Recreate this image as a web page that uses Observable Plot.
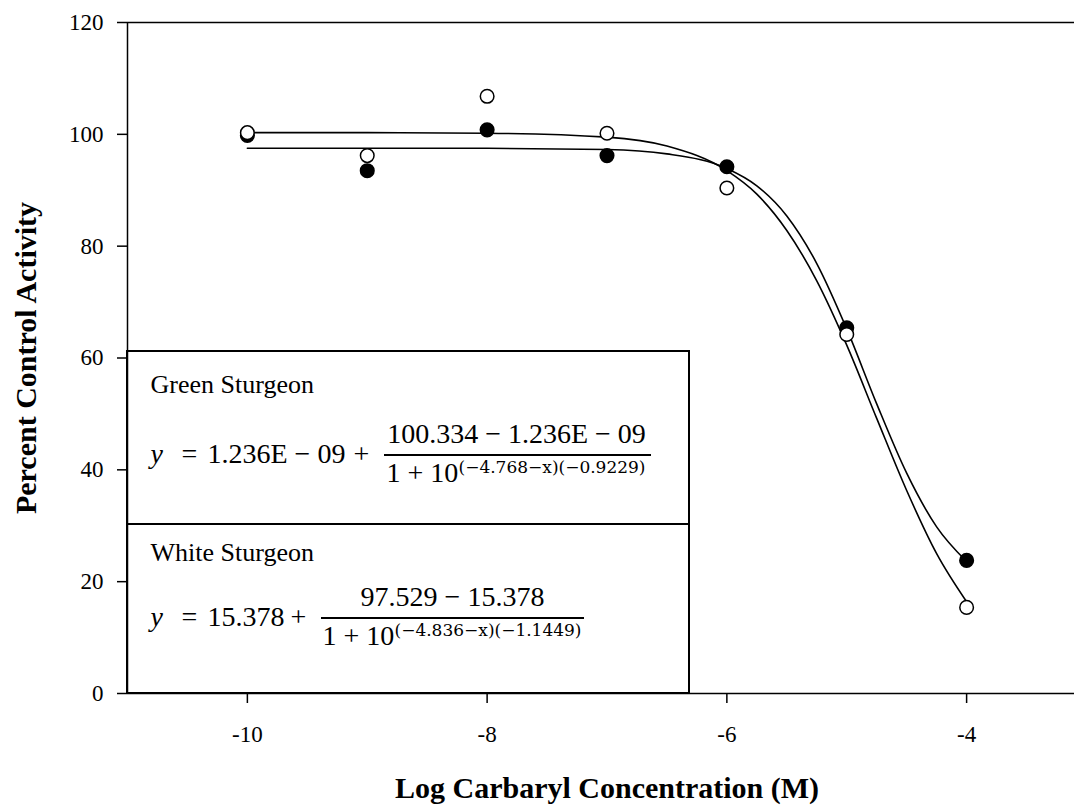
<!DOCTYPE html>
<html><head><meta charset="utf-8">
<script src="https://cdn.jsdelivr.net/npm/d3@7"></script>
<script src="https://cdn.jsdelivr.net/npm/@observablehq/plot@0.6"></script>
<style>body{margin:0;background:#fff}#chart{width:1074px;height:806px}</style>
</head><body><div id="chart"></div>
<script>
// ---- data ----
const logConc = [-10, -9, -8, -7, -6, -5, -4];
const greenActivity = [100.3, 96.2, 106.8, 100.2, 90.4, 64.2, 15.4];   // open circles
const whiteActivity = [99.8, 93.5, 100.8, 96.2, 94.2, 65.4, 23.8];     // filled circles
const fitX = [-10, -9, -8, -7, -6.5, -6, -5.75, -5.5, -5.25, -5, -4.75, -4.5, -4.25, -4];
const greenFit = [100.3, 100.3, 100.2, 99.5, 97.9, 93.5, 89.3, 82.8, 73.8, 62.3, 49.2, 36.3, 25.0, 16.4];
const whiteFit = [97.5, 97.5, 97.5, 97.3, 96.5, 93.9, 90.8, 85.4, 76.9, 65.2, 51.8, 39.4, 29.8, 23.6];
const xTicks = [-10, -8, -6, -4];
const yTicks = [0, 20, 40, 60, 80, 100, 120];
const xTitle = "Log Carbaryl Concentration (M)";
const yTitle = "Percent Control Activity";
const speciesNames = ["Green Sturgeon", "White Sturgeon"];
const greenEq = {lhs: "1.236E − 09", num: "100.334 − 1.236E − 09", exp: "(−4.768−x)(−0.9229)"};
const whiteEq = {lhs: "15.378", num: "97.529 − 15.378", exp: "(−4.836−x)(−1.1449)"};

// ---- tables ----
const pts = logConc.flatMap((x, i) => [
  {x, y: whiteActivity[i], s: "White"},
  {x, y: greenActivity[i], s: "Green"}
]);
const fits = [
  ...fitX.map((x, i) => ({x, y: greenFit[i], s: "Green"})),
  ...fitX.map((x, i) => ({x, y: whiteFit[i], s: "White"}))
];

// ---- annotation layout (pixels in the figure) ----
const W = 1074, H = 806, ML = 127, MT = 22, MB = 113, MR = 0;
const serif = "'Liberation Serif', 'Times New Roman', serif";
const mathSerif = "'DejaVu Serif', serif";
const annot = [
  {t: speciesNames[0], x: 150, y: 392, fs: 26},
  {t: "y", x: 150, y: 462, fs: 28, it: true},
  {t: "=", x: 181, y: 462, fs: 28},
  {t: greenEq.lhs, x: 207, y: 462, fs: 28},
  {t: "+", x: 353, y: 462, fs: 28},
  {t: greenEq.num, x: 516, y: 442, fs: 28, anchor: "middle"},
  {t: "1 + 10", x: 386, y: 481, fs: 28},
  {t: greenEq.exp, x: 458, y: 472, fs: 17, math: true},
  {t: speciesNames[1], x: 150, y: 560, fs: 26},
  {t: "y", x: 150, y: 625, fs: 28, it: true},
  {t: "=", x: 181, y: 625, fs: 28},
  {t: whiteEq.lhs, x: 207, y: 625, fs: 28},
  {t: "+", x: 290, y: 625, fs: 28},
  {t: whiteEq.num, x: 452, y: 605, fs: 28, anchor: "middle"},
  {t: "1 + 10", x: 322, y: 644, fs: 28},
  {t: whiteEq.exp, x: 394, y: 635, fs: 17, math: true}
];
const boxLayout = {x1: 127, x2: 689, y1: 351, y2: 693, div: 524};
const fractionBars = [{x1: 384, x2: 651, y: 455}, {x1: 321, x2: 584, y: 618}];

function legendBox() {
  const g = d3.create("svg:g").attr("stroke", "#000").attr("fill", "none");
  g.append("rect").attr("x", boxLayout.x1).attr("y", boxLayout.y1)
    .attr("width", boxLayout.x2 - boxLayout.x1).attr("height", boxLayout.y2 - boxLayout.y1)
    .attr("fill", "#fff").attr("stroke-width", 2);
  g.append("line").attr("x1", boxLayout.x1).attr("x2", boxLayout.x2)
    .attr("y1", boxLayout.div).attr("y2", boxLayout.div).attr("stroke-width", 2);
  for (const b of fractionBars) {
    g.append("line").attr("x1", b.x1).attr("x2", b.x2).attr("y1", b.y).attr("y2", b.y).attr("stroke-width", 2);
  }
  return g.node();
}

const textMarks = annot.map(a => Plot.text([a.t], {
  text: d => d, frameAnchor: "top-left", dx: a.x - ML, dy: a.y - MT,
  textAnchor: a.anchor || "start", lineAnchor: "bottom",
  fontSize: a.fs, fontFamily: a.math ? mathSerif : serif,
  fontStyle: a.it ? "italic" : "normal", fill: "#000"
}));

const chart = Plot.plot({
  width: W, height: H,
  marginLeft: ML, marginRight: MR, marginTop: MT, marginBottom: MB,
  style: {fontFamily: serif, fontSize: "23px", color: "#000", background: "#fff", overflow: "visible"},
  x: {domain: [-11, -3.1]},
  y: {domain: [0, 120]},
  marks: [
    legendBox,
    Plot.ruleY([120], {stroke: "#000", strokeWidth: 1.5}),
    Plot.ruleY([0], {stroke: "#000", strokeWidth: 1.5}),
    Plot.ruleX([-11], {stroke: "#000", strokeWidth: 1.5}),
    Plot.axisX({ticks: xTicks, tickSize: 10, tickPadding: 22, tickFormat: d => String(d),
      fontSize: 23, fontFamily: serif, strokeWidth: 1.5, label: null}),
    Plot.axisY({ticks: yTicks, tickSize: 10, tickPadding: 14, tickFormat: d => String(d),
      fontSize: 23, fontFamily: serif, strokeWidth: 1.5, label: null}),
    Plot.line(fits, {x: "x", y: "y", z: "s", curve: "monotone-x", stroke: "#000", strokeWidth: 1.6}),
    Plot.dot(pts.filter(d => d.s === "White"), {x: "x", y: "y", r: 6.8, fill: "#000", stroke: "#000", strokeWidth: 1.5}),
    Plot.dot(pts.filter(d => d.s === "Green"), {x: "x", y: "y", r: 6.8, fill: "#fff", stroke: "#000", strokeWidth: 1.5}),
    ...textMarks,
    Plot.text([xTitle], {text: d => d, frameAnchor: "bottom", dx: 6, dy: 104, lineAnchor: "bottom",
      textAnchor: "middle", fontSize: 30, fontWeight: "bold", fontFamily: serif, fill: "#000"}),
    Plot.text([yTitle], {text: d => d, frameAnchor: "left", dx: -92, dy: 0, rotate: -90, lineAnchor: "bottom",
      textAnchor: "middle", fontSize: 30, fontWeight: "bold", fontFamily: serif, fill: "#000"})
  ]
});
document.getElementById("chart").append(chart);
</script>
</body></html>
